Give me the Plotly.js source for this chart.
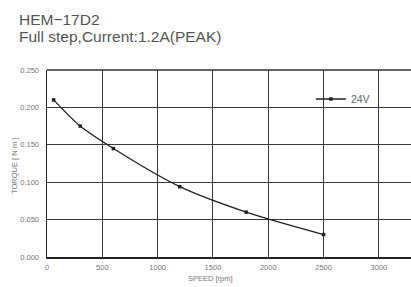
<!DOCTYPE html>
<html>
<head>
<meta charset="utf-8">
<script src="https://cdn.plot.ly/plotly-3.0.1.min.js"></script>
<style>html,body{margin:0;padding:0;background:#fff;}#chart{width:411px;height:287px;}</style>
</head>
<body>
<div id="chart"></div>
<script>
var speed = [60, 300, 600, 1200, 1800, 2500];
var torque = [0.210, 0.175, 0.145, 0.094, 0.060, 0.030];
var seriesName = '24V';
var xTicks = [0, 500, 1000, 1500, 2000, 2500, 3000];
var yTicks = [0, 0.05, 0.10, 0.15, 0.20, 0.25];
var yTickText = ['0.000', '0.050', '0.100', '0.150', '0.200', '0.250'];

var trace = {
  x: speed, y: torque, name: seriesName,
  type: 'scatter', mode: 'lines+markers',
  line: {color: '#222', width: 1.3, shape: 'spline', smoothing: 0.8},
  marker: {color: '#222', size: 3.5, symbol: 'square'}
};
var tickFont = {family: 'Liberation Sans, Arial, sans-serif', size: 7.5, color: '#777'};
var titleFont = {family: 'Liberation Sans, Arial, sans-serif', size: 15.5, color: '#555'};
var layout = {
  width: 411, height: 287,
  margin: {l: 47, r: 0, t: 70, b: 30},
  paper_bgcolor: '#fff', plot_bgcolor: '#fff',
  showlegend: true,
  legend: {x: 0.725, y: 0.845, xanchor: 'left', yanchor: 'middle', bgcolor: 'rgba(0,0,0,0)',
           font: {family: 'Liberation Sans, Arial, sans-serif', size: 10.5, color: '#666'},
           itemwidth: 30, tracegroupgap: 0},
  xaxis: {range: [0, 3290], tickvals: xTicks, ticktext: xTicks.map(String),
          showgrid: true, gridcolor: '#3a3a3a', gridwidth: 1,
          showline: true, linecolor: '#222', linewidth: 1.5, mirror: false,
          zeroline: false, ticks: '', tickfont: tickFont, ticklabelstandoff: 2},
  yaxis: {range: [0, 0.25], tickvals: yTicks, ticktext: yTickText,
          showgrid: true, gridcolor: '#3a3a3a', gridwidth: 1,
          showline: true, linecolor: '#222', linewidth: 1.5,
          zeroline: false, ticks: '', tickfont: tickFont, ticklabelstandoff: 5},
  shapes: [{type: 'line', xref: 'paper', yref: 'paper', x0: 0, x1: 1, y0: 1, y1: 1,
            line: {color: '#333', width: 1.5}}],
  annotations: [
    {text: 'HEM\u221217D2', xref: 'paper', yref: 'paper', x: (17 - 47) / 364, y: (257 - 19) / 187,
     xanchor: 'left', yanchor: 'middle', showarrow: false, font: titleFont},
    {text: 'Full step,Current:1.2A(PEAK)', xref: 'paper', yref: 'paper', x: (17 - 47) / 364, y: (257 - 37) / 187,
     xanchor: 'left', yanchor: 'middle', showarrow: false, font: titleFont},
    {text: 'SPEED [rpm]', xref: 'paper', yref: 'paper', x: (210 - 47) / 364, y: (257 - 278) / 187,
     xanchor: 'center', yanchor: 'middle', showarrow: false,
     font: {family: 'Liberation Sans, Arial, sans-serif', size: 7.5, color: '#777'}},
    {text: 'TORQUE [ N\u00b7m ]', xref: 'paper', yref: 'paper', x: (14 - 47) / 364, y: (257 - 166) / 187,
     xanchor: 'center', yanchor: 'middle', textangle: -90, showarrow: false,
     font: {family: 'Liberation Sans, Arial, sans-serif', size: 7.5, color: '#777'}}
  ]
};
Plotly.newPlot('chart', [trace], layout, {displayModeBar: false, staticPlot: true});
</script>
</body>
</html>
